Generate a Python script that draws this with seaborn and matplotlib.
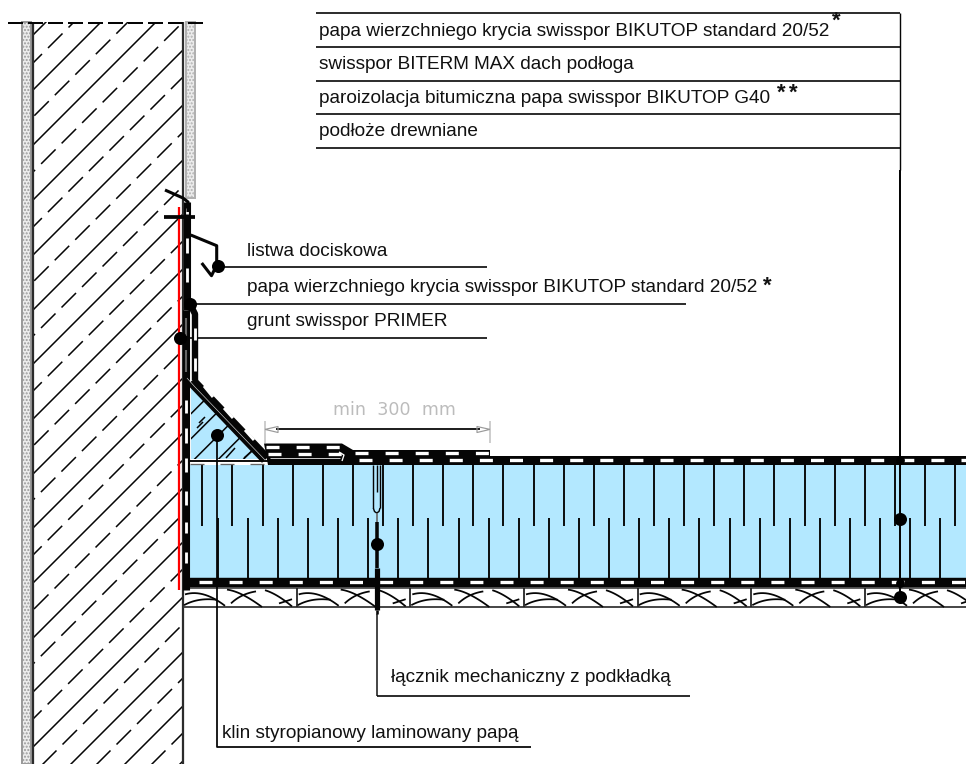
import numpy as np
import matplotlib
matplotlib.use("Agg")
import matplotlib.pyplot as plt
from matplotlib.patches import Rectangle
import seaborn as sns

# ---------- content ----------
table_labels = ["papa wierzchniego krycia swisspor BIKUTOP standard 20/52",
                "swisspor BITERM MAX dach podłoga",
                "paroizolacja bitumiczna papa swisspor BIKUTOP G40",
                "podłoże drewniane"]
table_baselines = [36, 69, 103, 136]
table_rules = [13, 47, 81, 114, 148]

callout_labels = ["listwa dociskowa",
                  "papa wierzchniego krycia swisspor BIKUTOP standard 20/52",
                  "grunt swisspor PRIMER",
                  "łącznik mechaniczny z podkładką",
                  "klin styropianowy laminowany papą"]
callout_x = [247, 247, 247, 391, 222]
callout_baselines = [256, 292, 326, 682, 738]

star_x = [836, 781, 793, 767]
star_y = [19, 91, 91, 284]

dim_label = "min  300  mm"

solid_hatch = [35, 90, 145, 200, 255, 310, 364, 419, 474, 528, 583, 638, 692, 747, 802, 856, 911]
dash_hatch = [63, 117, 172, 227, 282, 336, 391, 446, 500, 555, 610, 664, 719, 774, 828, 883]

slit_top_x = [202.3, 232.4, 262.5, 292.6, 322.7, 352.8, 382.9, 413, 443.2, 473.3, 503.4, 533.5, 563.6,
              593.7, 623.8, 653.9, 684, 714.2, 744.3, 774.4, 804.5, 834.6, 864.7, 894.8, 924.9, 955]
slit_low_x = [217.7, 247.8, 277.9, 308, 338.1, 368.2, 398.3, 428.4, 458.5, 488.7, 518.8, 548.9, 579,
              609.1, 639.2, 669.3, 699.4, 729.6, 759.7, 789.8, 819.9, 850, 880.1, 910.2, 940.3]
board_x = [183, 296.7, 410.3, 524, 637.7, 751.3, 865]

dot_x = [218, 190, 180, 217, 376.7, 899.5, 900]
dot_y = [266, 304, 337.5, 434.5, 544, 519, 597]

wall_white_y = [(208, 214), (238, 253), (268, 282), (400, 413), (428, 443),
                (458, 472), (491, 505), (522, 533), (552, 563)]
lap_white_y = [(328, 340), (358, 371)]

# ---------- set-up ----------
sns.set_theme(style="white")
plt.rcParams["font.family"] = ["Liberation Sans", "DejaVu Sans"]
plt.rcParams["lines.scale_dashes"] = False
plt.rcParams["lines.solid_capstyle"] = "butt"
plt.rcParams["lines.dash_capstyle"] = "butt"

fig = plt.figure(figsize=(9.66, 7.64), dpi=100)
ax = fig.add_axes([0, 0, 1, 1])
ax.set_axis_off()
ax.set_xlim(0, 966)
ax.set_ylim(764, 0)
ax.autoscale(False)

PX = 0.72
LW = 1.18
BLUE = "#B3E8FF"
INK = "#050505"
FS = 13.67


def draw(xs, ys, w=1.5, color=INK, z=3, dash=None, clip=None):
    sns.lineplot(x=np.asarray(xs, float), y=np.asarray(ys, float), ax=ax, sort=False, estimator=None,
                 color=color, linewidth=w * PX * LW, zorder=z, legend=False, errorbar=None)
    line = ax.lines[-1]
    if dash is not None:
        line.set_linestyle((0, (dash[0] * PX, dash[1] * PX)))
    if clip is not None:
        line.set_clip_path(clip)
    return line


def bez(p0, p1, p2):
    t = np.linspace(0, 1, 16)
    x = (1 - t) ** 2 * p0[0] + 2 * t * (1 - t) * p1[0] + t ** 2 * p2[0]
    y = (1 - t) ** 2 * p0[1] + 2 * t * (1 - t) * p1[1] + t ** 2 * p2[1]
    return x, y


# ---------- wall ----------
wall_clip = Rectangle((33, 22), 150, 742, fill=False, edgecolor="none")
ax.add_patch(wall_clip)
for b in solid_hatch:
    draw([33, 183], [b, b - 150], w=1.3, z=1, clip=wall_clip)
for k, b in enumerate(dash_hatch):
    x0 = 7 + 6.8 * k % 20.5
    draw([x0, 183], [b - (x0 - 33), b - (183 - 33)], w=1.3, z=1, dash=(20.5, 8.5), clip=wall_clip)

plt.rcParams["hatch.color"] = "#666666"
plt.rcParams["hatch.linewidth"] = 1.0
ax.add_patch(Rectangle((21.5, 22), 9.5, 742, facecolor="#ececec", edgecolor="#9a9a9a", lw=2 * PX,
                       hatch=".....", zorder=1))
ax.add_patch(Rectangle((185.5, 22), 9, 176, facecolor="#ececec", edgecolor="#b0b0b0", lw=2 * PX,
                       hatch=".....", zorder=1))
draw([32.5, 32.5], [22, 764], w=1.9, color="#2b2b2b", z=2)
draw([183.3, 183.3], [22, 764], w=1.9, color="#2b2b2b", z=2)
draw([8, 207], [22.7, 22.7], w=1.7, z=4, dash=(15, 5))

# ---------- insulation ----------
ax.add_patch(Rectangle((190, 465), 776, 113, facecolor=BLUE, edgecolor="none", zorder=1))
for x in slit_top_x:
    draw([x, x], [465, 525.5], w=1.6, z=2)
for x in slit_low_x:
    draw([x, x], [518, 578], w=1.6, z=2)

# ---------- wedge ----------
ax.fill([190.7, 190.7, 262], [386, 459, 459], color=BLUE, zorder=1, linewidth=0)
wedge_clip = plt.Polygon([(190.7, 386), (190.7, 459), (262, 459)], fill=False, edgecolor="none")
ax.add_patch(wedge_clip)
for b in [414, 439, 463, 487, 512, 536]:
    x0 = 190.7
    draw([x0, x0 + 75], [b, b - 75], w=1.3, z=2, clip=wedge_clip)
draw([199, 205], [423, 417], w=1.3, z=2)
draw([197, 203], [428, 422], w=1.3, z=2)
draw([226, 235], [458, 448], w=1.3, z=2)
draw([244, 252], [458, 451], w=1.3, z=2)
draw([190, 270], [461, 461], w=1.6, z=3)
draw([190, 270], [463.5, 463.5], w=1.1, color="#666666", z=2, dash=(14, 16))

# ---------- membranes ----------
draw([186, 186], [310, 590], w=6, z=4)
draw([187.2, 187.2], [202, 310], w=6, z=4)
for a, b in wall_white_y:
    xw = 186.7 if a < 300 else 185.8
    draw([xw, xw], [a, b], w=2.4, color="white", z=5)
draw([185.5, 185.5], [318, 336], w=1.8, color="#666666", z=5)
draw([185.5, 185.5], [350, 372], w=1.8, color="#666666", z=5)

draw([185, 192, 195, 195], [305, 308, 314, 380], w=5.4, z=4)
for a, b in lap_white_y:
    draw([194.7, 194.7], [a, b], w=2.4, color="white", z=5)

draw([191.5, 266], [381, 459], w=9.4, z=4)
draw([187, 195, 265], [378, 387, 460], w=0.5, color="#dddddd", z=5)
for p, q in [((204, 386), (213, 397)), ((224, 408), (233, 418)), ((245, 430), (254, 440))]:
    draw([p[0], q[0]], [p[1], q[1]], w=2.5, color="white", z=5)

ax.fill([264, 342, 353, 490, 490, 966, 966, 268],
        [443.5, 443.5, 450, 450, 456, 456, 465, 465], color=INK, zorder=4, linewidth=0)
draw([270, 340], [458, 458], w=0.8, color="#cfcfcf", z=5)
draw([339, 344, 342], [452, 455, 461], w=1.1, color="white", z=5)
for y, x0, x1 in [(447.3, 266, 342), (453.7, 268, 344), (453.3, 355, 490), (459.7, 358.5, 966)]:
    draw([x0, x1], [y, y], w=2.8, color="white", z=5, dash=(13, 17.1))

draw([183, 966], [582.3, 582.3], w=8, z=4)
draw([199.3, 966], [582.3, 582.3], w=2.8, color="white", z=5, dash=(13, 17.1))

# ---------- timber boards ----------
draw([183, 966], [588.3, 588.3], w=1.3, color="#333333", z=3)
draw([183, 966], [606.7, 606.7], w=1.5, color="#333333", z=3)
for x in board_x[1:]:
    draw([x, x], [588, 607], w=1.5, color="#222222", z=3)
curves = [((2, 9), (20, 0), (42, 28)), ((1, 27), (15, 14), (34, 18)),
          ((44, 1), (58, 4), (79, 30)), ((48, 24), (58, 8), (73, 4)),
          ((82, 2), (94, 8), (109, 29)), ((96, 24), (100, 22), (109, 17))]
for bx in board_x:
    for c in curves:
        p = [(bx + u, 589 + v * 0.6) for u, v in c]
        xs, ys = bez(*p)
        draw(xs, ys, w=1.5, z=3)

# ---------- flashing and fixing ----------
draw([165, 183, 188, 188], [190, 198, 202, 212], w=2.6, z=6)
draw([164, 195], [217, 217], w=3.2, z=6)
draw([190.7, 216.7, 216.7, 211.5, 201.7], [235, 245.7, 265, 275.7, 263], w=2.6, z=6)
draw([179, 179], [207, 590], w=1.9, color="#ff0000", z=3)

draw([373.3, 373.3], [465, 508], w=1.2, z=3)
draw([380, 380], [465, 508], w=1.2, z=3)
draw([373.3, 374.5, 376.7, 379, 380], [508, 511.5, 513, 511.5, 508], w=1.2, z=3)
draw([376.7, 376.7], [465, 491.5], w=1.2, z=3)
draw([376.7, 376.7], [513, 522], w=1.4, color="#666666", z=3)
draw([376.7, 376.7], [522, 568], w=3, z=3)
draw([376.7, 376.7], [568, 610], w=4.4, z=6)
draw([376.7, 376.7], [610, 614], w=2.2, z=6)
draw([376.7, 376.7], [614, 696.3], w=1.5, color="#333333", z=3)

# ---------- dimension ----------
draw([265, 265], [421, 443], w=1.4, color="#c4c4c4", z=2)
draw([489.7, 489.7], [421, 443], w=1.4, color="#c4c4c4", z=2)
draw([276, 480], [429.4, 429.4], w=1.5, z=3)
draw([265, 278, 278, 265], [429.4, 426.5, 432.5, 429.4], w=1, color="#9a9a9a", z=4)
draw([490, 477, 477, 490], [429.4, 426.5, 432.5, 429.4], w=1, color="#9a9a9a", z=4)
ax.text(394, 415, dim_label, family="DejaVu Sans", fontsize=12.6, color="#bcbcbc", ha="center", va="baseline")

# ---------- leaders ----------
for y in table_rules:
    draw([316, 900], [y, y], w=1.4, z=3)
draw([900, 900], [13, 170], w=1.2, z=3)
draw([900, 900], [170, 600], w=1.7, z=6)
draw([218, 487], [266.7, 266.7], w=1.4, z=3)
draw([190, 686], [304, 304], w=1.4, z=3)
draw([180, 487], [337.7, 337.7], w=1.4, z=3)
draw([216.8, 216.8, 531], [434.5, 746.7, 746.7], w=1.5, z=3)
draw([376.7, 690], [696.3, 696.3], w=1.4, z=3)

sns.scatterplot(x=dot_x, y=dot_y, ax=ax, s=88, color="black", linewidth=0, zorder=7, legend=False)
sns.scatterplot(x=[900, 900], y=[459.5, 583], ax=ax, s=40, color="black", linewidth=0, zorder=7, legend=False)

# ---------- text ----------
for t, y in zip(table_labels, table_baselines):
    ax.text(319, y, t, fontsize=FS, color="#111111", ha="left", va="baseline")
for t, x, y in zip(callout_labels, callout_x, callout_baselines):
    ax.text(x, y, t, fontsize=FS, color="#111111", ha="left", va="baseline")
for x, y in zip(star_x, star_y):
    ax.text(x, y + 8, "*", fontsize=16, fontweight="bold", color="#111111", ha="center", va="baseline")

ax.set_xlim(0, 966)
ax.set_ylim(764, 0)
fig.savefig("out.png", dpi=100, facecolor="white")
